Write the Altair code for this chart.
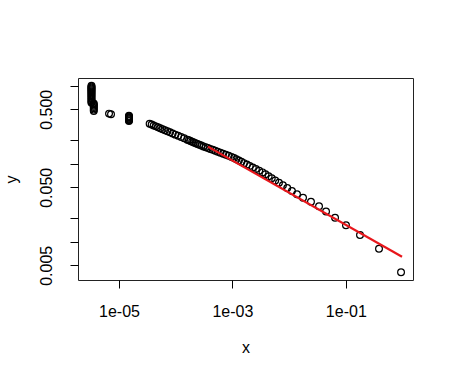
import altair as alt
import pandas as pd

col1_x = [3.27e-6] * 17
col1_y = [1.000, 0.975, 0.950, 0.925, 0.900, 0.875, 0.850, 0.825, 0.800,
          0.775, 0.750, 0.725, 0.700, 0.675, 0.650, 0.625, 0.605]
col2_x = [3.59e-6] * 7
col2_y = [0.595, 0.575, 0.555, 0.535, 0.515, 0.495, 0.475]
pair_x = [6.67e-6, 7.23e-6]
pair_y = [0.440, 0.432]
blob_x = [1.5e-5] * 8
blob_y = [0.412, 0.404, 0.396, 0.388, 0.380, 0.371, 0.363, 0.355]
chain_x = [3.47e-5, 3.77e-5, 4.09e-5, 4.47e-5, 4.89e-5, 5.35e-5, 5.87e-5, 6.49e-5,
           7.16e-5, 7.94e-5, 8.83e-5, 9.86e-5, 1.104e-4, 1.245e-4, 1.41e-4, 1.60e-4,
           1.71e-4, 1.82e-4, 1.95e-4, 2.09e-4, 2.25e-4, 2.42e-4, 2.61e-4, 2.83e-4,
           3.08e-4, 3.38e-4, 3.71e-4, 4.06e-4, 4.50e-4, 4.98e-4, 5.51e-4, 6.15e-4,
           6.85e-4, 7.66e-4, 8.61e-4, 9.68e-4, 1.069e-3, 1.175e-3, 1.30e-3, 1.44e-3,
           1.60e-3, 1.80e-3, 2.02e-3, 2.29e-3, 2.60e-3, 2.97e-3, 3.40e-3, 3.83e-3,
           4.35e-3, 4.94e-3, 5.69e-3, 6.62e-3, 7.78e-3, 9.27e-3, 1.122e-2, 1.377e-2,
           1.76e-2, 2.43e-2, 3.37e-2, 4.48e-2, 6.46e-2, 0.1007, 0.178, 0.385, 0.942]
chain_y = [0.3265, 0.3184, 0.3102, 0.3020, 0.2939, 0.2857, 0.2776, 0.2694,
           0.2612, 0.2531, 0.2449, 0.2367, 0.2286, 0.2204, 0.2122, 0.2041,
           0.2000, 0.1959, 0.1918, 0.1878, 0.1837, 0.1796, 0.1755, 0.1714,
           0.1673, 0.1633, 0.1592, 0.1551, 0.1510, 0.1469, 0.1429, 0.1388,
           0.1347, 0.1306, 0.1265, 0.1224, 0.1184, 0.1143, 0.1102, 0.1061,
           0.1020, 0.0980, 0.0939, 0.0898, 0.0857, 0.0816, 0.0776, 0.0735,
           0.0694, 0.0653, 0.0612, 0.0571, 0.0531, 0.0490, 0.0449, 0.0408,
           0.0367, 0.0327, 0.0286, 0.0245, 0.0204, 0.01633, 0.01224, 0.00816, 0.00408]

# Fitted line (red)
fit_x = [3.7e-4, 0.98]
fit_y = [0.166, 0.00644]

# Axis ticks
x_ticks = [1e-5, 1e-3, 1e-1]
y_ticks = [1.0, 0.5, 0.2, 0.1, 0.05, 0.02, 0.01, 0.005]

pts = pd.DataFrame({
    "x": col1_x + col2_x + pair_x + blob_x + chain_x,
    "y": col1_y + col2_y + pair_y + blob_y + chain_y,
})
fit = pd.DataFrame({"x": fit_x, "y": fit_y})

FONT = "Liberation Sans"

xscale = alt.Scale(type="log", domain=[1.892e-6, 1.531], nice=False)
yscale = alt.Scale(type="log", domain=[3.243e-3, 1.2589], nice=False)

xaxis = alt.Axis(
    title="x", values=x_ticks, grid=False, domain=False,
    labelExpr="replace(format(datum.value, '.0e'), '-', '-0')",
    tickSize=8, tickColor="black", tickWidth=1,
    labelFont=FONT, labelFontSize=16, labelColor="black",
    labelBaseline="alphabetic", labelPadding=28, labelFlush=False,
    titleFont=FONT, titleFontSize=16, titleFontWeight="normal", titleColor="black",
    titleBaseline="alphabetic", titleY=72,
)
yaxis = alt.Axis(
    title="y", values=y_ticks, grid=False, domain=False,
    labelExpr="indexof([0.5, 0.05, 0.005], datum.value) >= 0 ? format(datum.value, '.3f') : ''",
    tickSize=8, tickColor="black", tickWidth=1,
    labelFont=FONT, labelFontSize=16, labelColor="black",
    labelAngle=-90, labelAlign="center", labelBaseline="alphabetic",
    labelPadding=19, labelFlush=False, labelOverlap=False,
    titleFont=FONT, titleFontSize=16, titleFontWeight="normal", titleColor="black",
    titleAngle=-90, titleBaseline="alphabetic", titleX=-62, titleY=101,
)

points = alt.Chart(pts).mark_point(
    shape="circle", filled=False, color="black", size=46, strokeWidth=1.2, opacity=1
).encode(
    x=alt.X("x:Q", scale=xscale, axis=xaxis),
    y=alt.Y("y:Q", scale=yscale, axis=yaxis),
)

line = alt.Chart(fit).mark_line(color="#e8161b", strokeWidth=2.2).encode(
    x=alt.X("x:Q", scale=xscale),
    y=alt.Y("y:Q", scale=yscale),
)

chart = alt.layer(points, line).properties(
    width=335, height=202,
    autosize=alt.AutoSizeParams(type="none"),
    padding={"left": 78, "top": 78, "right": 41, "bottom": 98},
    background="white",
).configure_view(stroke="#222222", strokeWidth=1)

chart.save("out.html", embed_options={"renderer": "svg", "actions": False})
